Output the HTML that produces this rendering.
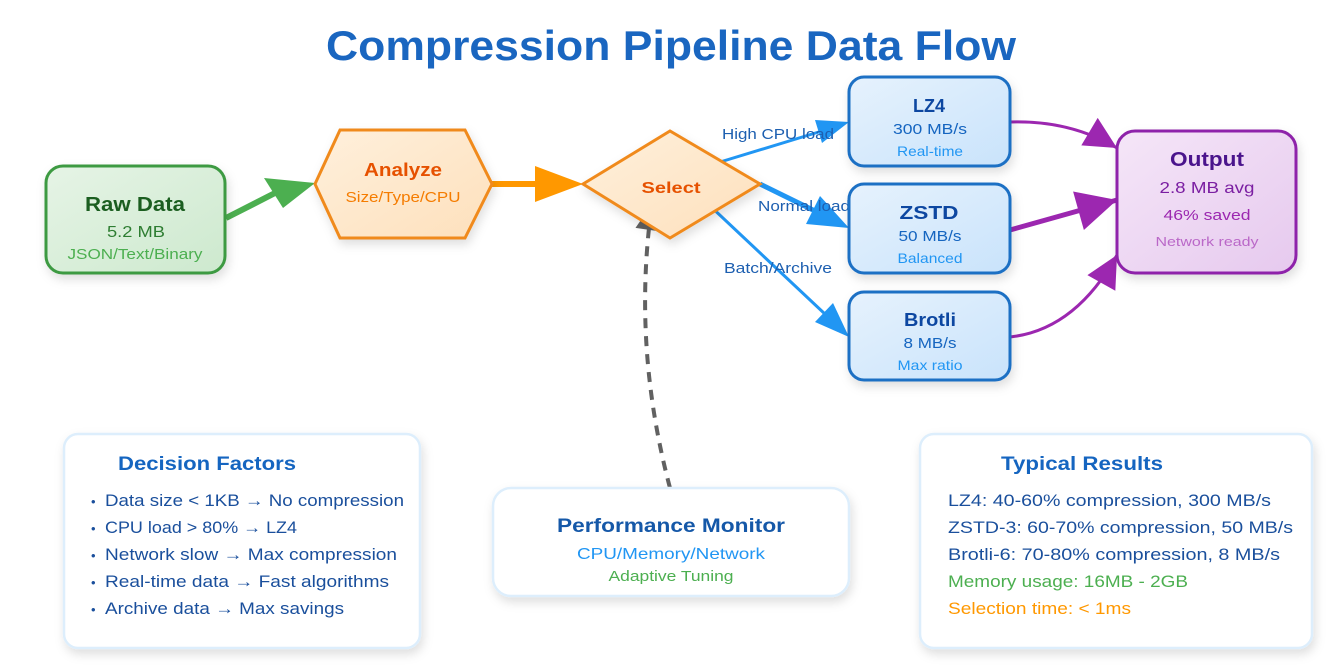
<!DOCTYPE html>
<html><head><meta charset="utf-8"><style>
html,body{margin:0;padding:0;background:#fff;}
svg{display:block;font-family:"Liberation Sans",sans-serif;}
</style></head><body>
<svg width="1344" height="670" viewBox="0 0 1344 670" xmlns="http://www.w3.org/2000/svg">
<defs>
<filter id="sh" x="-20%" y="-20%" width="140%" height="150%"><feDropShadow dx="2" dy="5" stdDeviation="5" flood-color="#000" flood-opacity="0.13"/></filter>
<linearGradient id="gG" x1="0" y1="0" x2="1" y2="1"><stop offset="0" stop-color="#e6f4e6"/><stop offset="1" stop-color="#cde9ce"/></linearGradient>
<linearGradient id="gO" x1="0" y1="0" x2="1" y2="1"><stop offset="0" stop-color="#fff0dc"/><stop offset="1" stop-color="#fde0bc"/></linearGradient>
<linearGradient id="gB" x1="0" y1="0" x2="1" y2="1"><stop offset="0" stop-color="#e6f2fd"/><stop offset="1" stop-color="#c9e3fb"/></linearGradient>
<linearGradient id="gP" x1="0" y1="0" x2="1" y2="1"><stop offset="0" stop-color="#f5e6f8"/><stop offset="1" stop-color="#e6c9ee"/></linearGradient>
<marker id="mP" markerUnits="userSpaceOnUse" viewBox="0 0 10 10" refX="10" refY="5" markerWidth="36" markerHeight="32" orient="auto"><path d="M0,0 L10,5 L0,10 z" fill="#9c27b0"/></marker>
<marker id="mP2" markerUnits="userSpaceOnUse" viewBox="0 0 10 10" refX="10" refY="5" markerWidth="44" markerHeight="40" orient="auto"><path d="M0,0 L10,5 L0,10 z" fill="#9c27b0"/></marker>
<marker id="mD" markerUnits="userSpaceOnUse" viewBox="0 0 10 10" refX="10" refY="5" markerWidth="36" markerHeight="26" orient="auto"><path d="M0,0 L10,5 L0,10 z" fill="#616161"/></marker>
</defs>

<text x="671" y="60" text-anchor="middle" font-size="42" font-weight="bold" fill="#1a66c0" textLength="690" lengthAdjust="spacingAndGlyphs">Compression Pipeline Data Flow</text>

<!-- connectors -->
<line x1="226" y1="218" x2="275" y2="193" stroke="#4caf50" stroke-width="6"/>
<polygon points="315,183 264,178 283,208" fill="#4caf50"/>
<line x1="492" y1="184" x2="540" y2="184" stroke="#ff9800" stroke-width="6"/>
<polygon points="583,184 535,166 535,202" fill="#ff9800"/>

<line x1="707" y1="166" x2="822" y2="131" stroke="#2196f3" stroke-width="3"/>
<polygon points="849,122 815,120 822,143" fill="#2196f3"/>
<line x1="760" y1="184" x2="815" y2="211" stroke="#2196f3" stroke-width="5"/>
<polygon points="849,228 806,224 820,196" fill="#2196f3"/>
<line x1="707" y1="203" x2="826" y2="315" stroke="#2196f3" stroke-width="3"/>
<polygon points="849,337 815,322 833,303" fill="#2196f3"/>

<path d="M1010,122 Q1070,120 1117,148" fill="none" stroke="#9c27b0" stroke-width="3" marker-end="url(#mP)"/>
<path d="M1010,230 L1117,200" fill="none" stroke="#9c27b0" stroke-width="5" marker-end="url(#mP2)"/>
<path d="M1010,337 Q1075,330 1117,255" fill="none" stroke="#9c27b0" stroke-width="3" marker-end="url(#mP)"/>

<path d="M670,488 Q632,345 652,204" fill="none" stroke="#616161" stroke-width="4" stroke-dasharray="10,8" marker-end="url(#mD)"/>

<text x="722" y="139" font-size="15" fill="#1d5fb0" textLength="112" lengthAdjust="spacingAndGlyphs">High CPU load</text>
<text x="758" y="211" font-size="15" fill="#1d5fb0" textLength="92" lengthAdjust="spacingAndGlyphs">Normal load</text>
<text x="724" y="273" font-size="15" fill="#1d5fb0" textLength="108" lengthAdjust="spacingAndGlyphs">Batch/Archive</text>

<!-- nodes -->
<g filter="url(#sh)">
<rect x="46" y="166" width="179" height="107" rx="17" fill="url(#gG)" stroke="#3e9a42" stroke-width="3"/>
<polygon points="315,184 340,130 465,130 492,184 465,238 340,238" fill="url(#gO)" stroke="#f08a1c" stroke-width="3"/>
<polygon points="583,184 670,131 760,184 670,238" fill="url(#gO)" stroke="#f08a1c" stroke-width="3"/>
<rect x="849" y="77" width="161" height="89" rx="15" fill="url(#gB)" stroke="#1e6fc4" stroke-width="3"/>
<rect x="849" y="184" width="161" height="89" rx="15" fill="url(#gB)" stroke="#1e6fc4" stroke-width="3"/>
<rect x="849" y="292" width="161" height="88" rx="15" fill="url(#gB)" stroke="#1e6fc4" stroke-width="3"/>
<rect x="1117" y="131" width="179" height="142" rx="18" fill="url(#gP)" stroke="#8e24aa" stroke-width="3"/>
</g>

<text x="135" y="211" text-anchor="middle" font-size="20" font-weight="bold" fill="#1b5e20" textLength="100" lengthAdjust="spacingAndGlyphs">Raw Data</text>
<text x="136" y="237" text-anchor="middle" font-size="16" fill="#2e7d32" textLength="58" lengthAdjust="spacingAndGlyphs">5.2 MB</text>
<text x="135" y="259" text-anchor="middle" font-size="15" fill="#4caf50" textLength="135" lengthAdjust="spacingAndGlyphs">JSON/Text/Binary</text>

<text x="403" y="176" text-anchor="middle" font-size="18" font-weight="bold" fill="#e65100" textLength="78" lengthAdjust="spacingAndGlyphs">Analyze</text>
<text x="403" y="202" text-anchor="middle" font-size="15" fill="#f57c00" textLength="115" lengthAdjust="spacingAndGlyphs">Size/Type/CPU</text>

<text x="671" y="193" text-anchor="middle" font-size="16" font-weight="bold" fill="#e65100" textLength="59" lengthAdjust="spacingAndGlyphs">Select</text>

<text x="929" y="112" text-anchor="middle" font-size="18" font-weight="bold" fill="#0d47a1">LZ4</text>
<text x="930" y="134" text-anchor="middle" font-size="15" fill="#1565c0" textLength="74" lengthAdjust="spacingAndGlyphs">300 MB/s</text>
<text x="930" y="156" text-anchor="middle" font-size="14" fill="#2196f3" textLength="66" lengthAdjust="spacingAndGlyphs">Real-time</text>

<text x="929" y="219" text-anchor="middle" font-size="18" font-weight="bold" fill="#0d47a1" textLength="59" lengthAdjust="spacingAndGlyphs">ZSTD</text>
<text x="930" y="241" text-anchor="middle" font-size="15" fill="#1565c0" textLength="63" lengthAdjust="spacingAndGlyphs">50 MB/s</text>
<text x="930" y="263" text-anchor="middle" font-size="14" fill="#2196f3" textLength="65" lengthAdjust="spacingAndGlyphs">Balanced</text>

<text x="930" y="326" text-anchor="middle" font-size="18" font-weight="bold" fill="#0d47a1" textLength="52" lengthAdjust="spacingAndGlyphs">Brotli</text>
<text x="930" y="348" text-anchor="middle" font-size="15" fill="#1565c0" textLength="53" lengthAdjust="spacingAndGlyphs">8 MB/s</text>
<text x="930" y="370" text-anchor="middle" font-size="14" fill="#2196f3" textLength="65" lengthAdjust="spacingAndGlyphs">Max ratio</text>

<text x="1207" y="166" text-anchor="middle" font-size="20" font-weight="bold" fill="#4a148c" textLength="74" lengthAdjust="spacingAndGlyphs">Output</text>
<text x="1207" y="193" text-anchor="middle" font-size="16" fill="#7b1fa2" textLength="95" lengthAdjust="spacingAndGlyphs">2.8 MB avg</text>
<text x="1207" y="220" text-anchor="middle" font-size="15" fill="#9c27b0" textLength="87" lengthAdjust="spacingAndGlyphs">46% saved</text>
<text x="1207" y="246" text-anchor="middle" font-size="13" fill="#ba68c8" textLength="103" lengthAdjust="spacingAndGlyphs">Network ready</text>

<!-- info boxes -->
<g filter="url(#sh)">
<rect x="64" y="434" width="356" height="214" rx="14" fill="#fff" stroke="#ddeefc" stroke-width="2.5"/>
<rect x="493" y="488" width="356" height="108" rx="18" fill="#fff" stroke="#ddeefc" stroke-width="2.5"/>
<rect x="920" y="434" width="392" height="214" rx="14" fill="#fff" stroke="#ddeefc" stroke-width="2.5"/>
</g>

<text x="118" y="470" font-size="19" font-weight="bold" fill="#1565c0" textLength="178" lengthAdjust="spacingAndGlyphs">Decision Factors</text>
<g font-size="17" fill="#1a4f9c">
<text x="91" y="506" font-size="13">•</text><text x="105" y="506" textLength="299" lengthAdjust="spacingAndGlyphs">Data size &lt; 1KB → No compression</text>
<text x="91" y="533" font-size="13">•</text><text x="105" y="533" textLength="192" lengthAdjust="spacingAndGlyphs">CPU load &gt; 80% → LZ4</text>
<text x="91" y="560" font-size="13">•</text><text x="105" y="560" textLength="292" lengthAdjust="spacingAndGlyphs">Network slow → Max compression</text>
<text x="91" y="587" font-size="13">•</text><text x="105" y="587" textLength="284" lengthAdjust="spacingAndGlyphs">Real-time data → Fast algorithms</text>
<text x="91" y="614" font-size="13">•</text><text x="105" y="614" textLength="239" lengthAdjust="spacingAndGlyphs">Archive data → Max savings</text>
</g>

<text x="671" y="532" text-anchor="middle" font-size="19" font-weight="bold" fill="#1558a8" textLength="228" lengthAdjust="spacingAndGlyphs">Performance Monitor</text>
<text x="671" y="559" text-anchor="middle" font-size="16" fill="#2196f3" textLength="188" lengthAdjust="spacingAndGlyphs">CPU/Memory/Network</text>
<text x="671" y="581" text-anchor="middle" font-size="15" fill="#4caf50" textLength="125" lengthAdjust="spacingAndGlyphs">Adaptive Tuning</text>

<text x="1001" y="470" font-size="19" font-weight="bold" fill="#1565c0" textLength="162" lengthAdjust="spacingAndGlyphs">Typical Results</text>
<g font-size="17">
<text x="948" y="506" fill="#1a4f9c" textLength="323" lengthAdjust="spacingAndGlyphs">LZ4: 40-60% compression, 300 MB/s</text>
<text x="948" y="533" fill="#1a4f9c" textLength="345" lengthAdjust="spacingAndGlyphs">ZSTD-3: 60-70% compression, 50 MB/s</text>
<text x="948" y="560" fill="#1a4f9c" textLength="332" lengthAdjust="spacingAndGlyphs">Brotli-6: 70-80% compression, 8 MB/s</text>
<text x="948" y="587" fill="#4caf50" textLength="240" lengthAdjust="spacingAndGlyphs">Memory usage: 16MB - 2GB</text>
<text x="948" y="614" fill="#ff9800" textLength="183" lengthAdjust="spacingAndGlyphs">Selection time: &lt; 1ms</text>
</g>
</svg>
</body></html>
